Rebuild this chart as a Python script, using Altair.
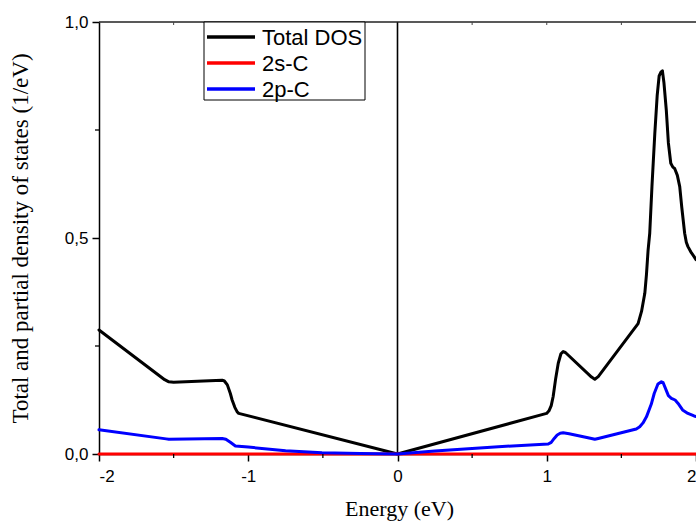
import altair as alt
import pandas as pd

# Total density of states (black)
energy_total = [-2.0, -1.56, -1.532, -1.50, -1.30, -1.175, -1.16, -1.14, -1.12, -1.108, -1.09,
                -1.075, -1.064, 0.0, 0.999, 1.015, 1.03, 1.043, 1.06, 1.077, 1.095, 1.110,
                1.125, 1.30, 1.322, 1.345, 1.612, 1.635, 1.657, 1.668, 1.679, 1.690, 1.705,
                1.724, 1.74, 1.753, 1.765, 1.775, 1.785, 1.801, 1.815, 1.831, 1.845, 1.857,
                1.875, 1.891, 1.905, 1.924, 1.935, 1.946, 1.965, 1.987, 2.0]
dos_total = [0.287, 0.172, 0.167, 0.166, 0.169, 0.171, 0.169, 0.160, 0.140, 0.125, 0.108,
             0.098, 0.094, 0.0, 0.094, 0.100, 0.112, 0.133, 0.175, 0.210, 0.232, 0.237,
             0.235, 0.178, 0.173, 0.179, 0.302, 0.330, 0.372, 0.415, 0.472, 0.511, 0.620,
             0.742, 0.830, 0.875, 0.884, 0.887, 0.860, 0.796, 0.720, 0.673, 0.664, 0.661,
             0.645, 0.619, 0.570, 0.511, 0.490, 0.480, 0.468, 0.457, 0.450]

# 2p-C partial DOS (blue)
energy_2p = [-2.0, -1.55, -1.532, -1.175, -1.15, -1.12, -1.086, -1.0, -0.75, -0.506, -0.25,
             0.0, 0.25, 0.5, 0.676, 1.01, 1.03, 1.05, 1.07, 1.09, 1.110, 1.15, 1.30, 1.322,
             1.345, 1.600, 1.623, 1.645, 1.668, 1.70, 1.72, 1.745, 1.768, 1.78, 1.80, 1.815,
             1.835, 1.860, 1.880, 1.91, 1.946, 1.987, 2.0]
dos_2p = [0.056, 0.035, 0.034, 0.036, 0.034, 0.027, 0.0185, 0.016, 0.0077, 0.003, 0.001,
          0.0, 0.007, 0.013, 0.017, 0.023, 0.027, 0.036, 0.044, 0.048, 0.049, 0.047, 0.036,
          0.034, 0.036, 0.058, 0.063, 0.072, 0.086, 0.115, 0.140, 0.162, 0.167, 0.165, 0.148,
          0.135, 0.129, 0.125, 0.117, 0.102, 0.094, 0.088, 0.087]

# 2s-C partial DOS (red)
energy_2s = [-2.0, -1.0, 0.0, 1.0, 2.0]
dos_2s = [0.0, 0.0, 0.0, 0.0, 0.0]

series_names = ["Total DOS", "2s-C", "2p-C"]
series_colors = ["#000000", "#ff0000", "#0000ff"]
series_widths = [3, 3, 3.5]

x_major = [-2, -1, 0, 1, 2]
x_minor = [-1.5, -0.5, 0.5, 1.5]
y_major = [0.0, 0.5, 1.0]
y_minor = [0.25, 0.75]
top_ticks = [-1.5, -1, -0.5, 0.5, 1, 1.5]

W, H = 597, 432

frames = []
for name, xs, ys in [("Total DOS", energy_total, dos_total),
                     ("2s-C", energy_2s, dos_2s),
                     ("2p-C", energy_2p, dos_2p)]:
    frames.append(pd.DataFrame({"energy": xs, "dos": ys, "series": name}))
df = pd.concat(frames, ignore_index=True)

x_scale = alt.Scale(domain=[-2, 2], nice=False, zero=False)
y_scale = alt.Scale(domain=[0, 1], nice=False)

x_axis = alt.Axis(values=x_major, labelExpr="datum.value", title="Energy (eV)",
                  titleX=300, titleY=54, titleBaseline="middle", titleAlign="center",
                  tickSize=7, labelPadding=7)
y_axis = alt.Axis(values=y_major, labelExpr="replace(format(datum.value, '.1f'), '.', ',')",
                  title="Total and partial density of states (1/eV)",
                  titleX=-79, titleY=216, titleBaseline="middle", titleAlign="center",
                  tickSize=7, labelPadding=4)

# vertical line at the Fermi level
fermi = alt.Chart(pd.DataFrame({"e": [0.0]})).mark_rule(color="black", strokeWidth=1.6).encode(
    x=alt.X("e:Q", scale=x_scale, axis=x_axis),
    y=alt.datum(0.0, scale=y_scale, axis=y_axis),
    y2=alt.datum(1.0),
)

lines = alt.Chart(df).mark_line(interpolate="linear", strokeJoin="round", strokeCap="round").encode(
    x=alt.X("energy:Q", scale=x_scale),
    y=alt.Y("dos:Q", scale=y_scale),
    color=alt.Color("series:N", scale=alt.Scale(domain=series_names, range=series_colors), legend=None),
    strokeWidth=alt.StrokeWidth("series:N", scale=alt.Scale(domain=series_names, range=series_widths), legend=None),
    order=alt.Order("energy:Q"),
)

# frame line along the top of the plot
top_line = alt.Chart(pd.DataFrame({"v": [1.0]})).mark_rule(color="#222222", strokeWidth=1.5).encode(
    y=alt.Y("v:Q", scale=y_scale),
    x=alt.value(0),
    x2=alt.value(W),
)

xminor = alt.Chart(pd.DataFrame({"t": x_minor})).mark_rule(color="black", strokeWidth=1.3).encode(
    x=alt.X("t:Q", scale=x_scale), y=alt.value(H), y2=alt.value(H + 4))
yminor = alt.Chart(pd.DataFrame({"t": y_minor})).mark_rule(color="black", strokeWidth=1.3).encode(
    y=alt.Y("t:Q", scale=y_scale), x=alt.value(0), x2=alt.value(-4))
topt = alt.Chart(pd.DataFrame({"t": top_ticks})).mark_rule(color="#444444", strokeWidth=1).encode(
    x=alt.X("t:Q", scale=x_scale), y=alt.value(0), y2=alt.value(3))

# legend box
legend_layers = [
    alt.Chart(pd.DataFrame({"k": [0]})).mark_rect(fill="white", stroke="black", strokeWidth=1).encode(
        x=alt.value(105), x2=alt.value(266), y=alt.value(0), y2=alt.value(78))
]
row_y = [15, 41, 67]
for name, col, ry in zip(series_names, series_colors, row_y):
    legend_layers.append(
        alt.Chart(pd.DataFrame({"k": [0]})).mark_rule(color=col, strokeWidth=3.5).encode(
            x=alt.value(108), x2=alt.value(156), y=alt.value(ry))
    )
    legend_layers.append(
        alt.Chart(pd.DataFrame({"k": [name]})).mark_text(
            align="left", baseline="middle", font="Liberation Sans", fontSize=22, color="black"
        ).encode(x=alt.value(163), y=alt.value(ry + 1), text="k:N")
    )

chart = alt.layer(fermi, lines, top_line, xminor, yminor, topt, *legend_layers).properties(
    width=W, height=H,
    autosize=alt.AutoSizeParams(type="none"),
    padding={"left": 99, "top": 22, "right": 0, "bottom": 67},
).configure_view(stroke="transparent").configure_axis(
    grid=False,
    domainColor="black", domainWidth=1.5,
    tickColor="black", tickWidth=1.5,
    labelFont="Liberation Sans", labelFontSize=17, labelColor="black",
    titleFont="Liberation Serif", titleFontWeight="normal", titleColor="black",
).configure_axisX(titleFontSize=22).configure_axisY(titleFontSize=23)

chart.save("out.html", embed_options={"renderer": "svg", "actions": False})
